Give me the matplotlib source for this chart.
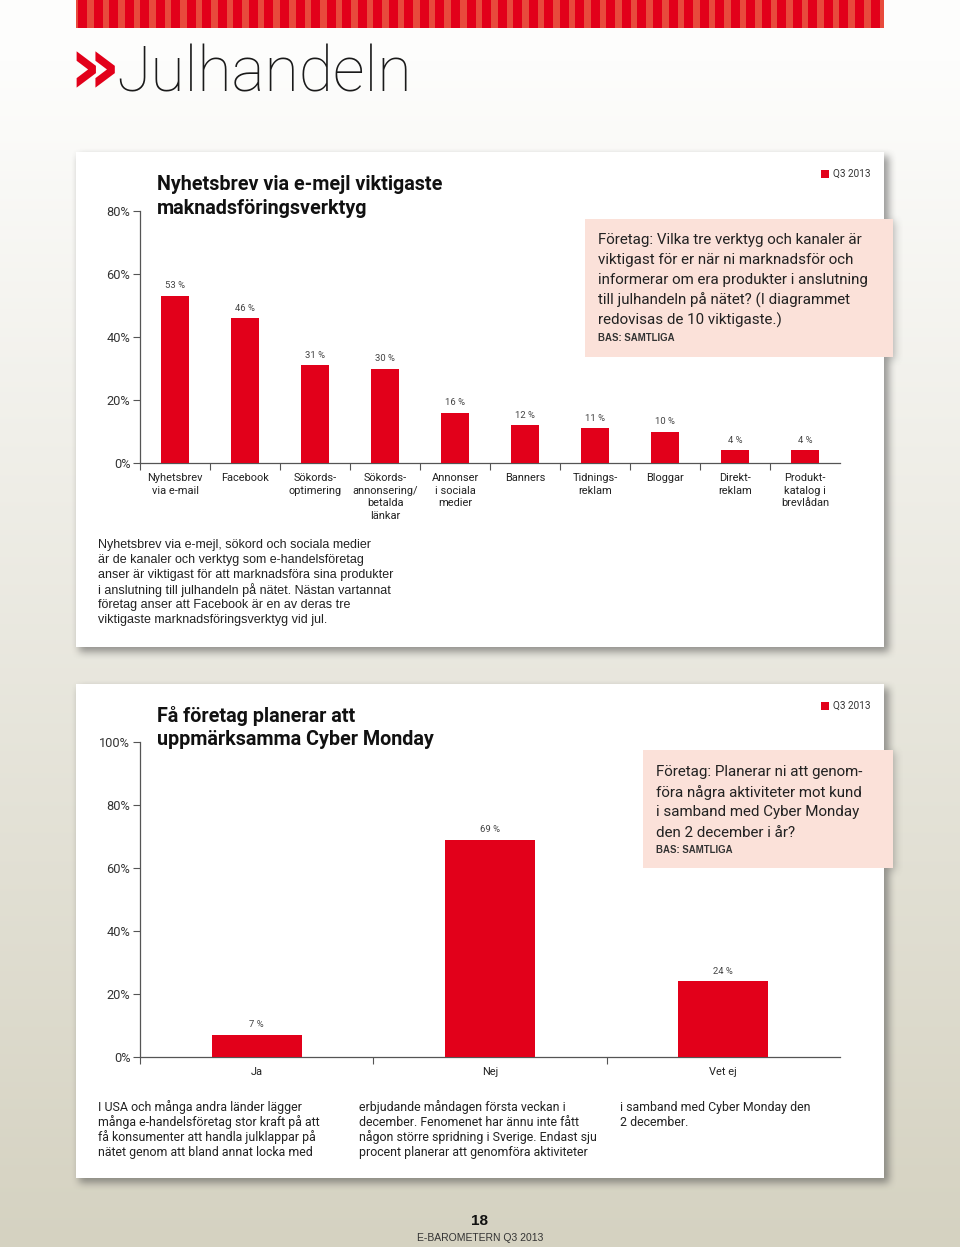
import numpy as np
import matplotlib
matplotlib.use("Agg")
import matplotlib.pyplot as plt
from matplotlib.patches import Rectangle

W, H = 960, 1247

# chart 1: most important marketing tools
tools = ["Nyhetsbrev\nvia e-mail", "Facebook", "Sökords-\noptimering",
         "Sökords-\nannonsering/\nbetalda\nlänkar", "Annonser\ni sociala\nmedier",
         "Banners", "Tidnings-\nreklam", "Bloggar", "Direkt-\nreklam",
         "Produkt-\nkatalog i\nbrevlådan"]
tool_share = [53, 46, 31, 30, 16, 12, 11, 10, 4, 4]
tool_ticks = [0, 20, 40, 60, 80]

# chart 2: Cyber Monday plans
cyber_answers = ["Ja", "Nej", "Vet ej"]
cyber_share = [7, 69, 24]
cyber_ticks = [0, 20, 40, 60, 80, 100]

RED = "#e2001a"
PINK = "#fbe1d9"
TXT = "#222222"
COND = ["Roboto", "DejaVu Sans"]
REG = ["Liberation Sans", "DejaVu Sans"]

fig = plt.figure(figsize=(W / 100, H / 100), dpi=100)
bg = fig.add_axes([0, 0, 1, 1])
bg.axis("off")

# page background gradient
t = np.clip((np.arange(H) - 60) / (H - 60), 0, 1)[:, None]
top = np.array([253, 253, 252]) / 255
bot = np.array([213, 210, 193]) / 255
grad = top * (1 - t) + bot * t
bg.imshow(np.repeat(grad[:, None, :], 2, axis=1), extent=[0, W, H, 0],
          aspect="auto", zorder=0)

# soft shadows under the cards
cards = [(76, 152, 884, 647), (76, 684, 884, 1178)]
pinks = [(585, 219, 893, 357), (643, 750, 893, 868)]
mask = np.zeros((H, W))
for x0, y0, x1, y1 in cards:
    mask[y0 + 4:y1 + 5, x0 + 3:x1 + 5] = 1
for x0, y0, x1, y1 in pinks:
    mask[y0 + 2:y1 + 3, x0 + 2:x1 + 3] = np.maximum(mask[y0 + 2:y1 + 3, x0 + 2:x1 + 3], 0.5)
k = np.ones(9) / 9
for _ in range(2):
    mask = np.apply_along_axis(lambda m: np.convolve(m, k, mode="same"), 0, mask)
    mask = np.apply_along_axis(lambda m: np.convolve(m, k, mode="same"), 1, mask)
shadow = np.zeros((H, W, 4))
shadow[..., :3] = 0.3
shadow[..., 3] = mask * 0.55
bg.imshow(shadow, extent=[0, W, H, 0], aspect="auto", zorder=1)

for x0, y0, x1, y1 in cards:
    bg.add_patch(Rectangle((x0, y0), x1 - x0, y1 - y0, fc="white", ec="none", zorder=2))
for x0, y0, x1, y1 in pinks:
    bg.add_patch(Rectangle((x0, y0), x1 - x0, y1 - y0, fc=PINK, ec="none", zorder=3))

# striped band at the top
bg.add_patch(Rectangle((76, 0), 808, 28, fc="#e84a3c", ec="none", zorder=2))
for i in range(52):
    bg.add_patch(Rectangle((78 + i * 15.54, 0), 9, 28, fc=RED, ec="none", zorder=3))

bg.set_xlim(0, W)
bg.set_ylim(H, 0)

# page heading
bg.text(68, 71, "»", fontsize=58, color=RED, weight="bold", family="DejaVu Sans",
        ha="left", va="center", zorder=4)
bg.text(116, 92, "Julhandeln", fontsize=45, color="#1a1a1a", family=["Roboto", "DejaVu Sans"],
        weight=100, ha="left", va="baseline", zorder=4)


def rows(x, y0, dy, lines, **kw):
    for i, s in enumerate(lines):
        bg.text(x, y0 + i * dy, s, ha="left", va="center", zorder=5, **kw)


# chart titles
rows(157, 185, 23.5, ["Nyhetsbrev via e-mejl viktigaste", "maknadsföringsverktyg"],
     fontsize=14.2, weight="bold", family=COND, color="#111")
rows(157, 716, 23.5, ["Få företag planerar att", "uppmärksamma Cyber Monday"],
     fontsize=14.2, weight="bold", family=COND, color="#111")

# period legend
for yq in (174, 706):
    bg.add_patch(Rectangle((821, yq - 4), 8, 8, fc=RED, ec="none", zorder=5))
    bg.text(833, yq, "Q3 2013", fontsize=7.2, family=COND, color="#333",
            ha="left", va="center", zorder=5)

# question boxes
rows(598, 240, 20.2, ["Företag: Vilka tre verktyg och kanaler är",
                      "viktigast för er när ni marknadsför och",
                      "informerar om era produkter i anslutning",
                      "till julhandeln på nätet? (I diagrammet",
                      "redovisas de 10 viktigaste.)"],
     fontsize=10.9, family=COND, color=TXT)
bg.text(598, 338, "BAS: SAMTLIGA", fontsize=6.9, weight="bold", family=REG,
        color="#333", ha="left", va="center", zorder=5)
rows(656, 772, 20.2, ["Företag: Planerar ni att genom-",
                      "föra några aktiviteter mot kund",
                      "i samband med Cyber Monday",
                      "den 2 december i år?"],
     fontsize=10.9, family=COND, color=TXT)
bg.text(656, 850, "BAS: SAMTLIGA", fontsize=6.9, weight="bold", family=REG,
        color="#333", ha="left", va="center", zorder=5)

# body texts
rows(98, 545, 15, ["Nyhetsbrev via e-mejl, sökord och sociala medier",
                   "är de kanaler och verktyg som e-handelsföretag",
                   "anser är viktigast för att marknadsföra sina produkter",
                   "i anslutning till julhandeln på nätet. Nästan vartannat",
                   "företag anser att Facebook är en av deras tre",
                   "viktigaste marknadsföringsverktyg vid jul."],
     fontsize=9.0, family=REG, color=TXT)
cols = [["I USA och många andra länder lägger",
         "många e-handelsföretag stor kraft på att",
         "få konsumenter att handla julklappar på",
         "nätet genom att bland annat locka med"],
        ["erbjudande måndagen första veckan i",
         "december. Fenomenet har ännu inte fått",
         "någon större spridning i Sverige. Endast sju",
         "procent planerar att genomföra aktiviteter"],
        ["i samband med Cyber Monday den", "2 december."]]
for xc, col in zip((98, 359, 620), cols):
    rows(xc, 1107, 15.2, col, fontsize=8.9, family=COND, color=TXT)

# footer
bg.text(480, 1221, "18", fontsize=11, weight="bold", family=REG, color="#111",
        ha="center", va="center", zorder=5)
bg.text(480, 1238, "E-BAROMETERN Q3 2013", fontsize=7.5, family=REG, color="#333",
        ha="center", va="center", zorder=5)


def bar_chart(box, cats, vals, ticks, width):
    x0, ytop, x1, ybot = box
    ax = fig.add_axes([x0 / W, 1 - ybot / H, (x1 - x0) / W, (ybot - ytop) / H])
    ax.patch.set_alpha(0)
    xs = np.arange(len(cats))
    ax.bar(xs, vals, width=width, color=RED, zorder=3)
    for xi, v in zip(xs, vals):
        ax.annotate(f"{v} %", (xi, v), xytext=(0, 4), textcoords="offset points",
                    ha="center", va="bottom", fontsize=6.8, color="#444", family=COND)
    ax.set_xlim(-0.5, len(cats) - 0.5)
    ax.set_ylim(0, ticks[-1])
    ax.set_yticks(ticks)
    ax.set_yticklabels([f"{v}%" for v in ticks], family=COND, fontsize=9.2, color="#333")
    ax.set_xticks(xs)
    ax.set_xticklabels(cats, family=COND, fontsize=7.9, color="#222", linespacing=1.35,
                       va="top")
    ax.set_xticks(list(xs[:-1] + 0.5) + [-0.5], minor=True)
    ax.tick_params(axis="x", which="major", length=0, pad=7)
    ax.tick_params(axis="x", which="minor", length=5, width=0.8, color="#555", direction="out")
    ax.tick_params(axis="y", length=5, width=0.8, color="#555", pad=2)
    for s in ("top", "right"):
        ax.spines[s].set_visible(False)
    for s in ("left", "bottom"):
        ax.spines[s].set_color("#555")
        ax.spines[s].set_linewidth(0.9)
    return ax


bar_chart((140, 211, 840, 463), tools, tool_share, tool_ticks, 0.39)
bar_chart((140, 742, 840, 1057), cyber_answers, cyber_share, cyber_ticks, 0.386)

fig.savefig("out.png", dpi=100)
